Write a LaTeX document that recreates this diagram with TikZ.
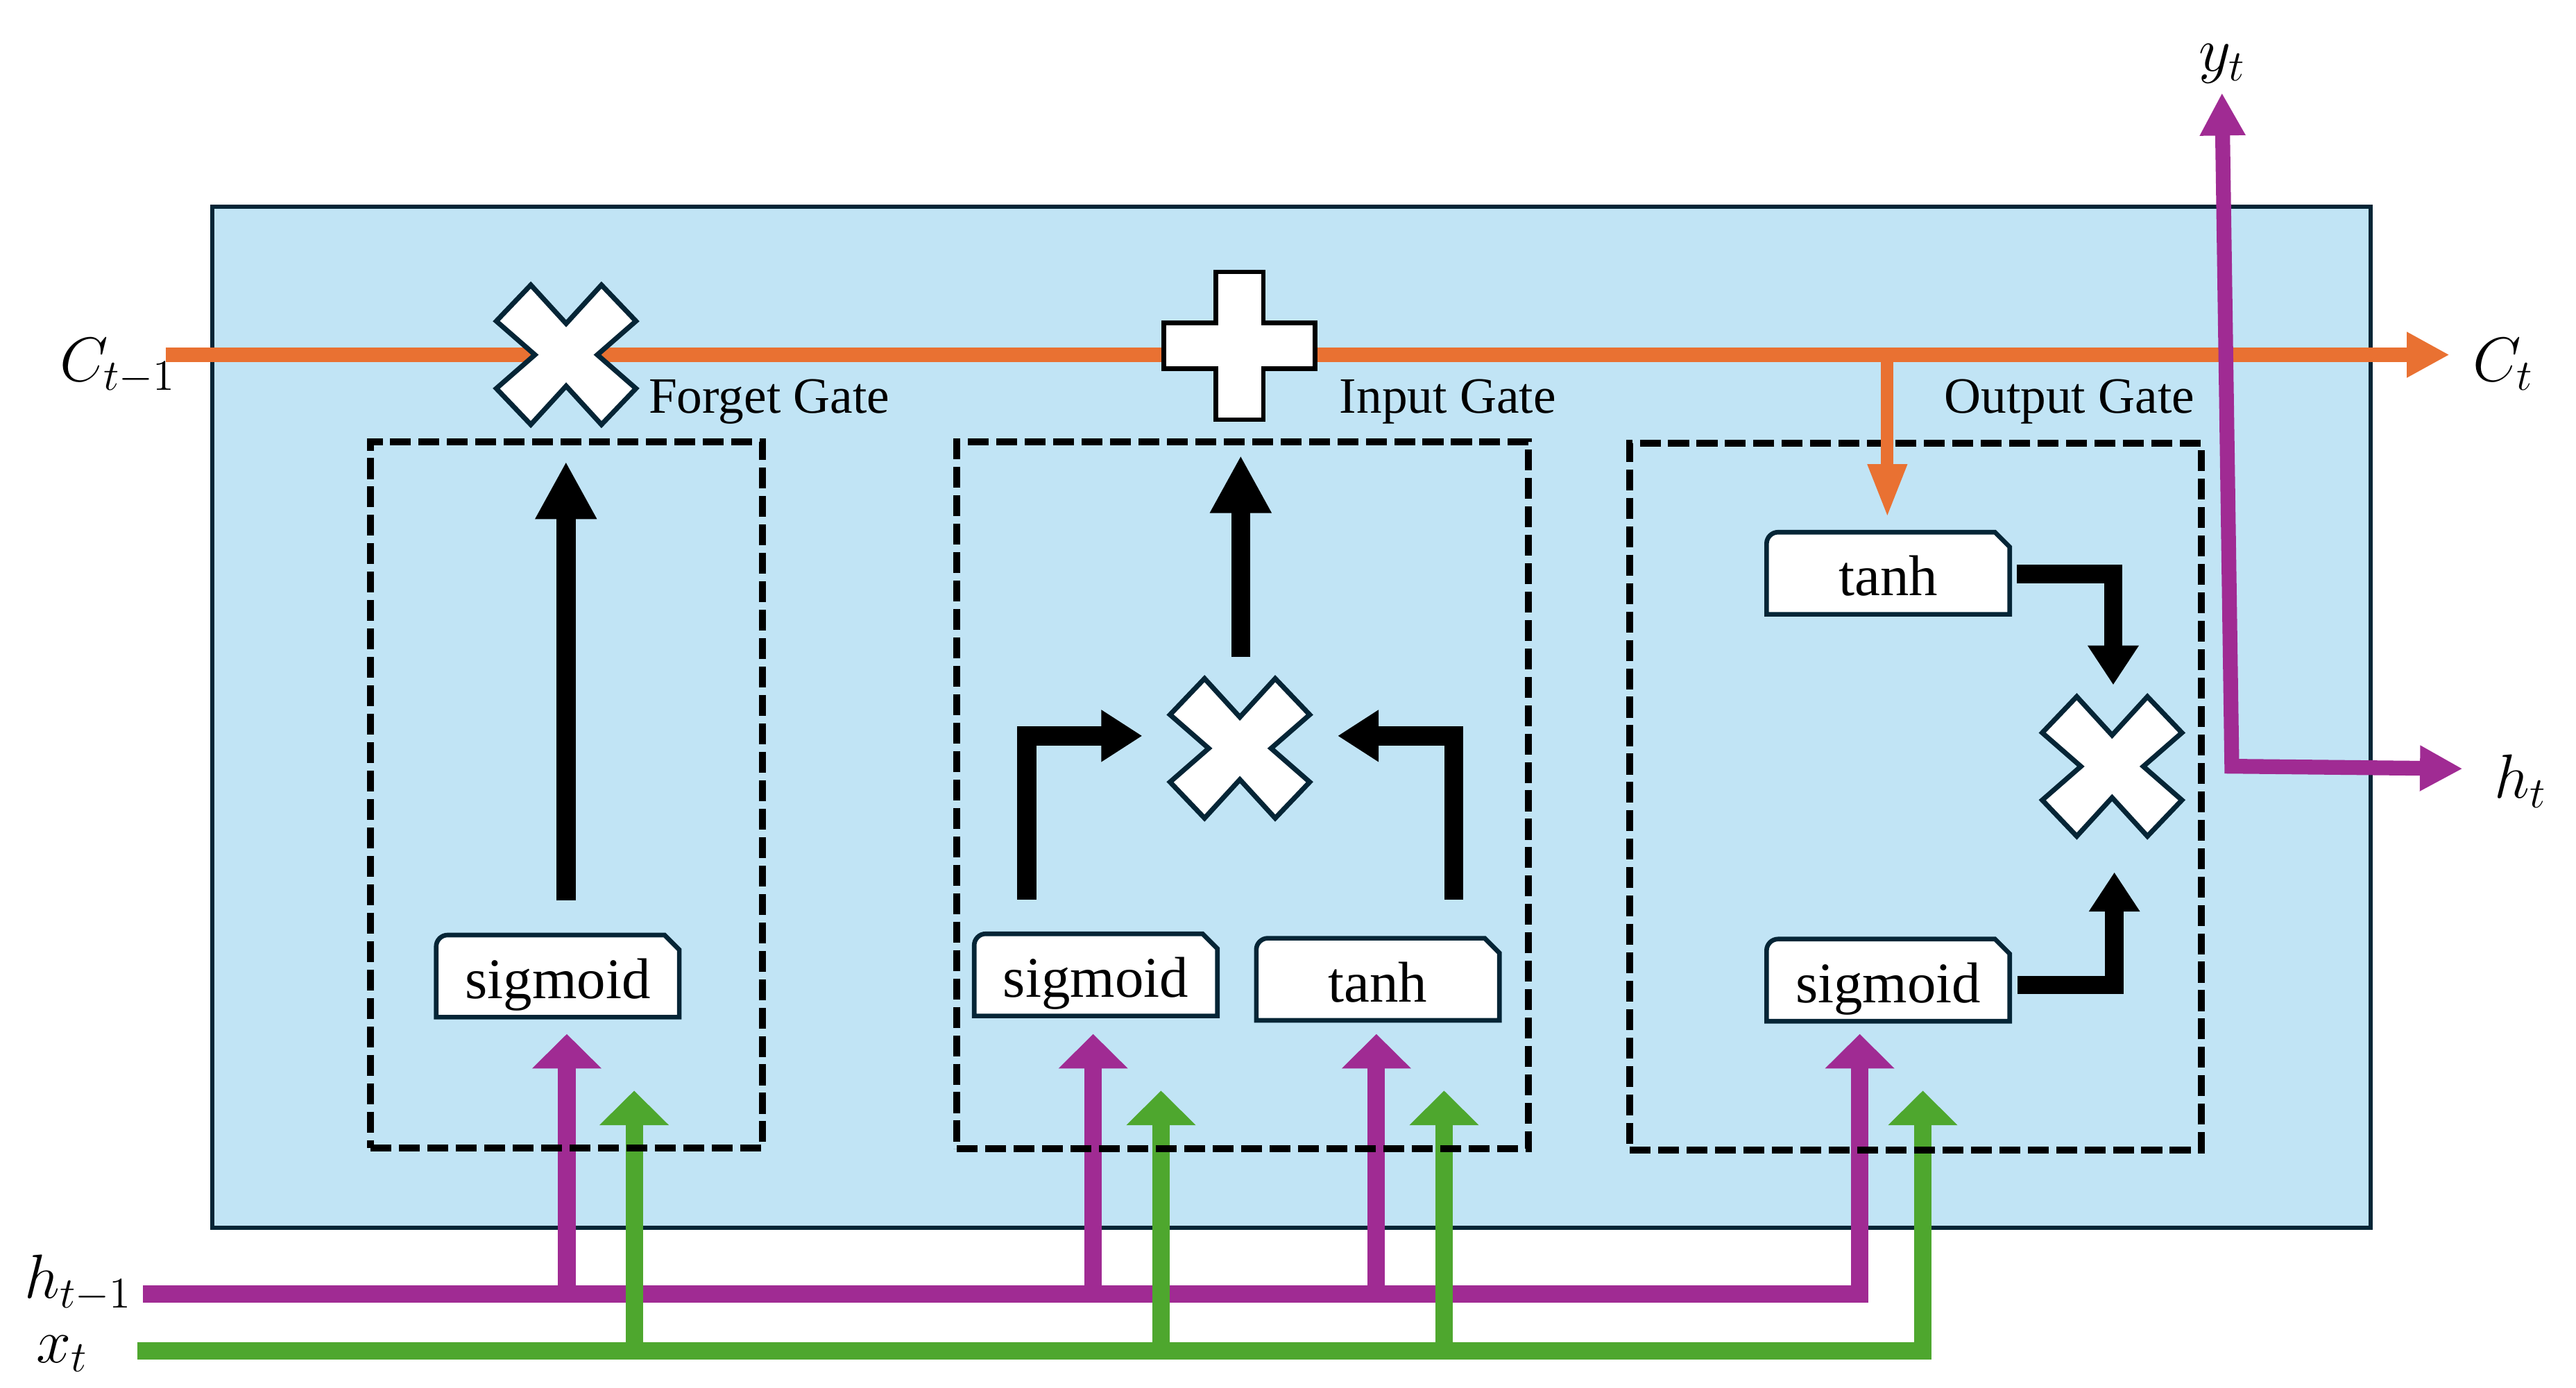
\RequirePackage{fix-cm}
\documentclass[tikz,border=0pt]{standalone}
\usepackage[no-math]{fontspec}
\setmainfont{Liberation Serif}
\usetikzlibrary{arrows.meta,calc}
\definecolor{cellfill}{HTML}{C1E4F5}
\definecolor{navy}{HTML}{052536}
\definecolor{corange}{HTML}{E97132}
\definecolor{cpurple}{HTML}{A02B93}
\definecolor{cgreen}{HTML}{4EA72E}

\tikzset{
 tipIn/.tip={Triangle[length=10.5pt,width=20.5pt]},
 tipBig/.tip={Triangle[length=17.5pt,width=17.5pt]},
 tipElb/.tip={Triangle[length=12.5pt,width=15pt]},
 tipOut/.tip={Triangle[length=12pt,width=14.75pt]},
 tipOr/.tip={Triangle[length=13pt,width=13pt]},
 tipOrDn/.tip={Triangle[length=16.35pt,width=11pt]},
 cell/.style={draw=navy, fill=cellfill, line width=1.3pt, inner sep=0pt},
 gatebox/.style={draw=black, line width=2.1pt, dash pattern=on 6.35pt off 2.3pt, inner sep=0pt},
 funcnode/.style={inner sep=0pt, minimum width=74pt, minimum height=25pt, text height=14pt, text depth=0.4pt, font=\fontsize{17.5}{20}\selectfont},
 funcline/.style={draw=navy, fill=white, line width=1.4pt, line join=miter},
 xline/.style={draw=navy, fill=white, line width=1.5pt, line join=miter},
 plusline/.style={draw=black, fill=white, line width=1.4pt, line join=miter},
 gatelabel/.style={anchor=base west, inner sep=0pt, font=\fontsize{15.5}{18}\selectfont},
 mathlabel/.style={anchor=base west, inner sep=0pt, font=\fontsize{19}{23}\selectfont},
 orangeline/.style={draw=corange, line width=4.4pt},
 purpleline/.style={draw=cpurple, line width=5.3pt},
 greenline/.style={draw=cgreen, line width=5.3pt},
 blackarrow/.style={draw=black, line width=5.8pt},
}

\newcommand\drawfuncshape[1]{%
 \draw[funcline] ($(#1)+(-37pt,-12.5pt)$) -- ($(#1)+(-37pt,9pt)$)
   arc[start angle=180,end angle=90,radius=3.5pt]
   -- ($(#1)+(32.5pt,12.5pt)$) -- ($(#1)+(37pt,8pt)$) -- ($(#1)+(37pt,-12.5pt)$) -- cycle;}
\newcommand\drawxmark[1]{%
 \draw[xline, shift={(#1)}] (-21.5,42.5) -- (0,19) -- (21.5,42.5) -- (42.5,20.5) -- (19,0)
   -- (42.5,-20.5) -- (21.5,-42.5) -- (0,-19) -- (-21.5,-42.5) -- (-42.5,-20.5) -- (-19,0)
   -- (-42.5,20.5) -- cycle;}
\newcommand\drawplusmark[1]{%
 \draw[plusline, shift={(#1)}] (-14.5,45) -- (14.5,45) -- (14.5,14) -- (46,14) -- (46,-14)
   -- (14.5,-14) -- (14.5,-45) -- (-14.5,-45) -- (-14.5,-14) -- (-46,-14) -- (-46,14)
   -- (-14.5,14) -- cycle;}

\begin{document}
\begin{tikzpicture}[x=0.5pt,y=0.5pt]
\useasboundingbox (0,0) rectangle (1568,-845);

% cell body
\node[cell, minimum width=656.9pt, minimum height=310.75pt] (cell) at (786.1,-436.75) {};

% cell state line
\coordinate (cin) at (101,-216);
\coordinate (cout) at (1491,-216);
\draw[orangeline, -tipOr] (cin) -- (cout);
\coordinate (cbranch) at (1148.8,-216);
\coordinate (otin) at (1148.8,-315.3);

% function box centres
\coordinate (fsC) at (339.5,-594.25);
\coordinate (isC) at (667,-593.5);
\coordinate (itC) at (838.7,-596.2);
\coordinate (otC) at (1149.3,-349);
\coordinate (osC) at (1149.3,-596.7);

% operation centres
\coordinate (fx) at (344.6,-216);
\coordinate (ix) at (754.7,-455.6);
\coordinate (ox) at (1285.6,-466.6);
\coordinate (plus) at (754.5,-210.5);

% output h_t / y_t
\coordinate (ytTip) at (1352.5,-56.5);
\coordinate (hcorner) at (1358.5,-466.5);
\coordinate (htTip) at (1499,-468);
\draw[purpleline, line width=4.5pt, tipOr-tipOr] (ytTip) -- (hcorner) -- (htTip);

% inputs h_{t-1}
\coordinate (hbusL) at (87,-787.8);
\coordinate (fsH) at (345,-629.5);
\coordinate (isH) at (665.4,-629.5);
\coordinate (itH) at (837.8,-629.5);
\coordinate (osH) at (1132,-629.5);
\draw[purpleline, -tipIn] (hbusL) -- (hbusL -| osH) -- (osH);
\draw[purpleline, -tipIn] (fsH |- hbusL) -- (fsH);
\draw[purpleline, -tipIn] (isH |- hbusL) -- (isH);
\draw[purpleline, -tipIn] (itH |- hbusL) -- (itH);

% inputs x_t
\coordinate (xbusL) at (83.5,-822.6);
\coordinate (fsX) at (386,-664);
\coordinate (isX) at (706.7,-664);
\coordinate (itX) at (879,-664);
\coordinate (osX) at (1170.4,-664);
\draw[greenline, -tipIn] (xbusL) -- (xbusL -| osX) -- (osX);
\draw[greenline, -tipIn] (fsX |- xbusL) -- (fsX);
\draw[greenline, -tipIn] (isX |- xbusL) -- (isX);
\draw[greenline, -tipIn] (itX |- xbusL) -- (itX);

% gate frames
\node[gatebox, minimum width=119.25pt, minimum height=215pt] (fgate) at (344.75,-484) {};
\node[gatebox, minimum width=174pt, minimum height=215.25pt] (igate) at (756.5,-484.25) {};
\node[gatebox, minimum width=174pt, minimum height=215pt] (ogate) at (1166,-485) {};

% orange branch into output gate
\draw[orangeline, line width=3.8pt, -tipOrDn] (cbranch) -- (otin);

% function boxes
\drawfuncshape{fsC}
\drawfuncshape{isC}
\drawfuncshape{itC}
\drawfuncshape{otC}
\drawfuncshape{osC}
\node[funcnode] (fs) at (fsC) {sigmoid};
\node[funcnode] (is) at (isC) {sigmoid};
\node[funcnode] (it) at (itC) {tanh};
\node[funcnode] (ot) at (otC) {tanh};
\node[funcnode] (os) at (osC) {sigmoid};

% pointwise operations
\drawxmark{fx}
\drawxmark{ix}
\drawxmark{ox}
\drawplusmark{plus}

% black arrows
\draw[blackarrow, line width=6pt, -tipBig] ($(fs.north)+(5,20.6)$) -- ($(fx)+(-0.1,-65)$);
\draw[blackarrow, -tipBig] ($(ix)+(0.5,55.6)$) -- ($(plus)+(0.7,-66.8)$);
\draw[blackarrow, -tipElb] ($(is.north)+(-42.1,20.5)$) |- ($(ix)+(-59.4,7.6)$);
\draw[blackarrow, -tipElb] ($(it.north)+(46.3,23.2)$) |- ($(ix)+(59.5,7.6)$);
\draw[blackarrow, line width=5.6pt, -tipOut] ($(ot.east)+(3.7,-0.5)$) -| ($(ox)+(0.7,49.6)$);
\draw[blackarrow, line width=5.6pt, -tipOut] ($(os.east)+(4.3,-3)$) -| ($(ox)+(1.4,-64.4)$);

% labels
\node[gatelabel] (flabel) at (394.5,-251.3) {Forget Gate};
\node[gatelabel] (ilabel) at (815,-251.3) {Input Gate};
\node[gatelabel] (olabel) at (1183,-251.3) {Output Gate};
\node[mathlabel] (lc1) at (36,-232) {$C_{t-1}$};
\node[mathlabel] (lc) at (1504.7,-232) {$C_t$};
\node[mathlabel] (ly) at (1338,-43.5) {$y_t$};
\node[mathlabel] (lh) at (1518,-486) {$h_t$};
\node[mathlabel] (lh1) at (14.8,-790.5) {$h_{t-1}$};
\node[mathlabel] (lx) at (21.6,-829.5) {$x_t$};
\end{tikzpicture}
\end{document}
